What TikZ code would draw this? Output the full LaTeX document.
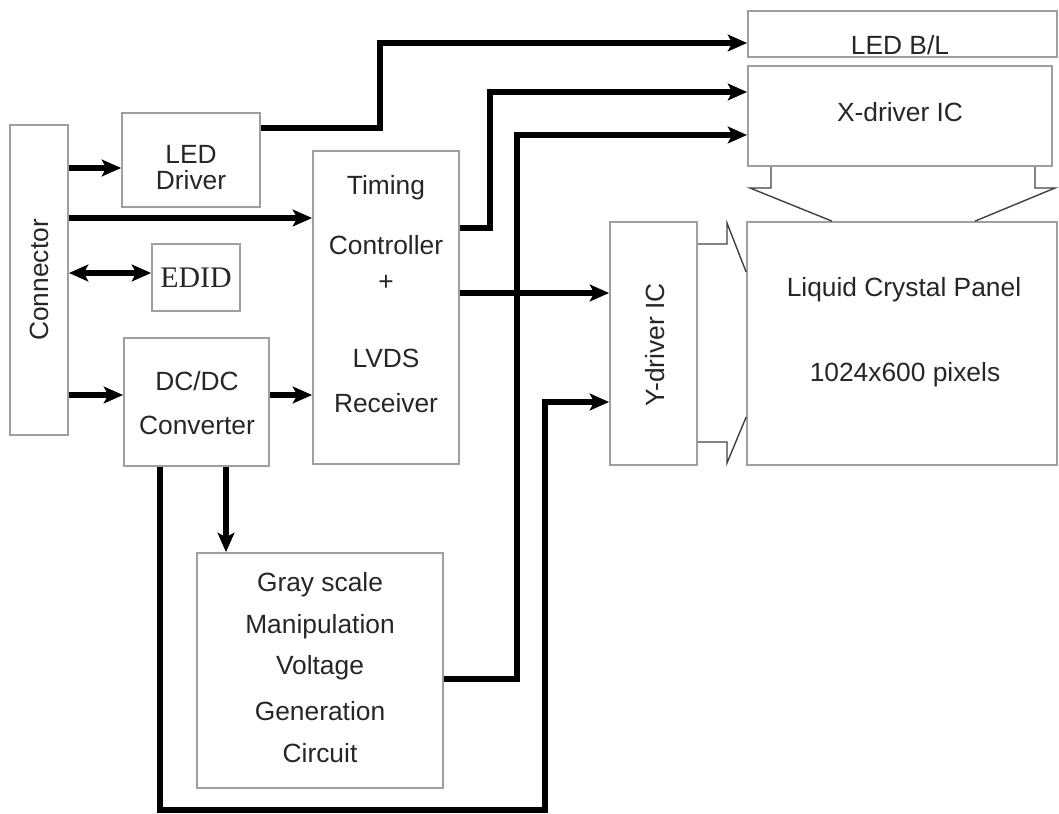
\documentclass[tikz,border=0pt]{standalone}
\usepackage{fontspec}
\setmainfont{Liberation Sans}
\newfontfamily\edidfont{Liberation Serif}
\usetikzlibrary{arrows.meta,positioning}

\begin{document}
\begin{tikzpicture}[x=0.02cm, y=-0.02cm,
  box/.style={draw=gray!75, line width=1pt, inner sep=0pt},
  txt/.style={font=\fontsize{15}{17}\selectfont, text=black!85, inner sep=0pt},
  conn/.style={line width=3.4pt, -{Stealth[length=11pt,width=9.5pt,inset=2.5pt]}},
  dconn/.style={line width=3.4pt, {Stealth[length=11pt,width=9.5pt,inset=2.5pt]}-{Stealth[length=11pt,width=9.5pt,inset=2.5pt]}},
  flap/.style={draw=black!75, line width=0.8pt}]
\useasboundingbox (0,0) rectangle (1059,814);

% Blocks
\node[box, minimum width=1.16cm, minimum height=6.2cm] (con) at (39,280) {};
\node[box, minimum width=2.76cm, minimum height=1.88cm] (ldrv) at (191,160) {};
\node[box, minimum width=1.76cm, minimum height=1.34cm] (edid) at (196,277.5) {};
\node[box, minimum width=2.9cm, minimum height=2.56cm] (dc) at (196.5,402) {};
\node[box, minimum width=2.92cm, minimum height=6.26cm] (tc) at (386,307.5) {};
\node[box, minimum width=4.92cm, minimum height=4.7cm] (gs) at (320,670.5) {};
\node[box, minimum width=1.74cm, minimum height=4.86cm] (yd) at (653.5,343.5) {};
\node[box, minimum width=6.2cm, minimum height=4.86cm] (pn) at (902,343.5) {};
\node[box, minimum width=6.08cm, minimum height=2.0cm] (xd) at (900,116) {};
\node[box, minimum width=6.18cm, minimum height=0.92cm] (bl) at (902.5,34) {};

% Texts
\node[txt, rotate=90] (conT) at (con) {Connector};
\node[txt] (ldrvA) at (191,154) {LED};
\node[txt] (ldrvB) at (191,180) {Driver};
\node[txt, font=\edidfont\fontsize{17}{19}\selectfont] (edidT) at (edid) {EDID};
\node[txt] (dcA) at (197,381) {DC/DC};
\node[txt] (dcB) at (197,425) {Converter};
\node[txt] (tcA) at (386,188) {Timing};
\node[txt] (tcB) at (386,245) {Controller};
\node[txt] (tcC) at (386,283) {+};
\node[txt] (tcD) at (386,358) {LVDS};
\node[txt] (tcE) at (386,403) {Receiver};
\node[txt] (gsA) at (320,585) {Gray scale};
\node[txt] (gsB) at (320,627) {Manipulation};
\node[txt] (gsC) at (320,668) {Voltage};
\node[txt] (gsD) at (320,711) {Generation};
\node[txt] (gsE) at (320,753) {Circuit};
\node[txt, rotate=90] (ydT) at (655,345) {Y-driver IC};
\node[txt] (pnA) at (904,290) {Liquid Crystal Panel};
\node[txt] (pnB) at (905,375) {1024x600 pixels};
\node[txt] (xdT) at (900,112) {X-driver IC};
\node[txt] (blT) at (900,45) {LED B/L};

% Connector side
\draw[conn] (con.east |- 0,168) -- (ldrv.west |- 0,168);
\draw[conn] (con.east |- 0,218) -- (tc.west |- 0,218);
\draw[dconn] (con.east |- 0,273) -- (edid.west |- 0,273);
\draw[conn] (con.east |- 0,395) -- (dc.west |- 0,395);
\draw[conn] (dc.east |- 0,395) -- (tc.west |- 0,395);

% To the drivers
\draw[conn] (ldrv.east |- 0,128) -| (380,43) -- (bl.west |- 0,43);
\draw[conn] (tc.east |- 0,228) -| (490,92) -- (xd.west |- 0,92);
\draw[conn] (gs.east |- 0,679) -| (517,135) -- (xd.west |- 0,135);
\draw[conn] (tc.east |- 0,293) -- (yd.west |- 0,293);
\draw[conn] (dc.south -| 160,0) |- (545,810) |- (yd.west |- 0,402);
\draw[conn] (dc.south -| 226,0) -- (gs.north -| 226,0);

% Driver outputs to panel
\draw[flap] (xd.south -| 771,0) -- (771,188) -- (750,188) -- (pn.north -| 832,0);
\draw[flap] (xd.south -| 1035,0) -- (1035,188) -- (1055,188) -- (pn.north -| 975,0);
\draw[flap] (yd.east |- 0,244) -- (727,244) -- (727,223) -- (pn.west |- 0,272);
\draw[flap] (yd.east |- 0,442) -- (727,442) -- (727,463) -- (pn.west |- 0,417);
\end{tikzpicture}
\end{document}
